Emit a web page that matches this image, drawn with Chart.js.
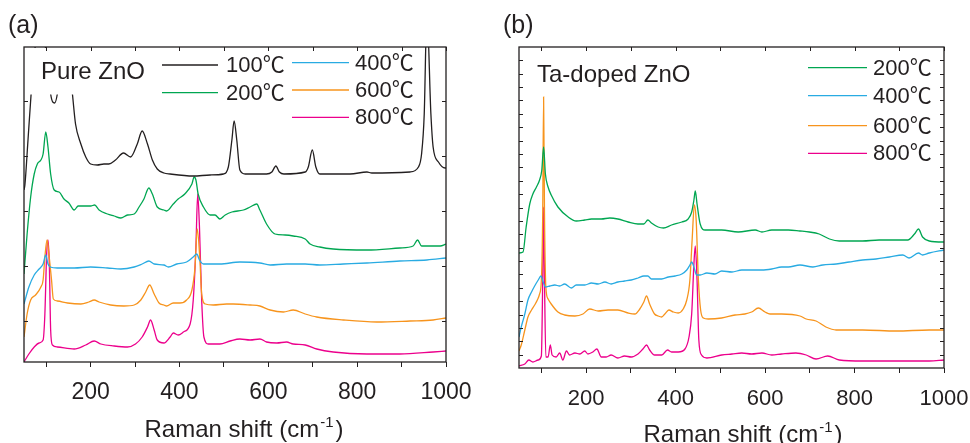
<!DOCTYPE html>
<html>
<head>
<meta charset="utf-8">
<script src="https://cdn.jsdelivr.net/npm/chart.js@4"></script>
<style>
  html, body { margin: 0; padding: 0; background: #fff; }
  #wrap { position: relative; width: 970px; height: 443px; overflow: hidden; }
  canvas { position: absolute; top: 0; }
  #ca { left: 0; }
  #cb { left: 485px; }
</style>
</head>
<body>
<div id="wrap">
  <canvas id="ca" width="485" height="443"></canvas>
  <canvas id="cb" width="485" height="443"></canvas>
</div>
<script>
// x ticks (cm-1) and which of them get a label
const xTicks = [100, 200, 300, 400, 500, 600, 700, 800, 900, 1000];
const xTickLabels = [200, 400, 600, 800, 1000];

// (a) Pure ZnO, offset spectra [Raman shift, intensity a.u.]
const pure100 = [[50,172],[52,177],[59,222],[66,268],[72,300],[80,330],[90,330],[100,310],[106,290],[110,268],[119,259],[125,268],[132,295],[142,310],[152,295],[159,268],[166,238],[178,218],[189,205],[200,198],[215,197],[230,198],[241,198],[256,202],[274,209],[290,205],[305,218],[316,231],[328,218],[339,202],[350,193],[365,189],[379,188],[431,186],[469,187],[499,188],[510,195],[518,222],[523,241],[529,222],[536,192],[548,188],[596,188],[608,190],[617,196],[625,190],[635,188],[683,190],[690,195],[699,212],[707,195],[716,188],[784,188],[822,190],[833,189],[919,190],[938,195],[945,208],[951,248],[957,350],[966,248],[971,215],[983,200],[998,194],[1000,194]];
const pure200 = [[50,88],[57,128],[65,165],[73,188],[80,198],[88,202],[93,208],[99,230],[104,215],[110,188],[118,172],[129,170],[140,163],[151,159],[163,152],[172,156],[200,156],[209,157],[219,152],[238,148],[253,146],[268,144],[283,147],[298,148],[309,155],[320,163],[331,174],[339,168],[350,155],[365,152],[371,151],[386,158],[397,163],[412,168],[428,178],[433,185],[437,182],[442,168],[454,155],[469,147],[480,147],[491,143],[503,147],[518,150],[544,152],[559,155],[574,158],[581,152],[596,138],[615,128],[638,127],[656,126],[683,123],[694,118],[716,115],[746,113],[822,112],[896,114],[926,116],[936,122],[945,116],[957,116],[987,116],[1000,118]];
const pure400 = [[50,58],[61,75],[73,87],[84,93],[93,98],[99,107],[104,98],[109,95],[125,94],[163,94],[200,95],[238,94],[268,93],[298,95],[316,98],[331,101],[343,98],[365,97],[375,95],[394,98],[416,100],[431,105],[439,108],[445,102],[454,98],[491,98],[536,100],[581,99],[604,97],[641,98],[683,98],[716,97],[769,98],[822,99],[896,101],[957,102],[1000,104]];
const pure600 = [[50,25],[57,48],[65,62],[76,67],[88,75],[93,82],[97,105],[102,122],[106,108],[112,82],[116,63],[125,61],[148,59],[178,58],[196,60],[208,62],[219,60],[245,57],[275,56],[298,57],[313,62],[324,70],[333,77],[343,68],[354,59],[365,57],[371,56],[386,59],[401,59],[416,62],[428,72],[435,95],[440,133],[446,102],[450,68],[458,58],[476,57],[506,58],[521,58],[559,57],[581,56],[604,52],[634,50],[656,52],[683,48],[709,45],[769,42],[844,40],[919,41],[971,42],[1000,44]];
const pure800 = [[50,0],[61,8],[73,15],[84,19],[93,22],[97,48],[101,108],[104,122],[107,98],[110,32],[114,17],[125,15],[163,13],[189,17],[208,21],[223,18],[253,16],[283,15],[301,18],[316,25],[328,35],[335,42],[343,32],[350,22],[365,19],[379,25],[386,29],[397,27],[409,30],[424,38],[431,62],[437,115],[441,168],[445,135],[450,62],[455,25],[465,18],[491,18],[514,21],[536,23],[559,22],[581,23],[596,20],[619,19],[641,20],[656,18],[683,17],[709,13],[746,10],[822,8],[896,8],[971,10],[1000,11]];

// (b) Ta-doped ZnO
const ta200 = [[50,115],[59,116],[66,141],[74,164],[81,174],[89,181],[96,188],[101,198],[105,221],[109,194],[115,181],[122,173],[137,161],[160,151],[178,147],[197,148],[212,149],[234,149],[253,150],[271,149],[294,146],[316,144],[329,144],[338,148],[346,145],[361,141],[373,140],[391,143],[414,146],[428,149],[436,156],[441,168],[444,177],[448,164],[455,144],[466,138],[503,138],[540,136],[578,138],[593,136],[615,138],[652,138],[678,137],[699,136],[721,134],[744,129],[766,127],[818,127],[855,128],[893,128],[919,128],[934,134],[943,139],[952,131],[967,127],[997,126],[1000,126]];
const ta400 = [[50,31],[55,41],[63,54],[70,68],[78,76],[85,82],[93,88],[99,92],[104,86],[109,81],[119,82],[130,83],[141,82],[152,84],[167,80],[178,83],[197,83],[212,85],[227,84],[242,86],[256,84],[271,86],[286,87],[301,88],[316,90],[329,92],[338,92],[346,89],[361,89],[369,89],[384,91],[399,92],[414,94],[425,98],[432,103],[436,106],[441,101],[447,93],[455,93],[470,95],[488,94],[503,97],[526,96],[548,98],[570,98],[593,98],[615,99],[637,101],[652,101],[678,103],[707,101],[729,103],[759,104],[788,106],[818,108],[848,109],[878,111],[908,113],[922,110],[943,115],[952,113],[967,115],[1000,118]];
const ta600 = [[50,17],[55,23],[63,38],[70,51],[78,58],[85,63],[91,68],[96,74],[100,88],[103,154],[105,271],[107,154],[110,81],[115,69],[122,64],[137,56],[152,53],[175,52],[193,54],[208,59],[227,57],[249,58],[271,58],[294,55],[309,54],[320,59],[329,66],[335,72],[342,64],[353,54],[361,52],[369,51],[376,54],[385,58],[395,56],[406,55],[417,59],[425,68],[432,88],[437,128],[442,163],[446,148],[451,88],[456,58],[462,50],[473,49],[503,50],[533,53],[555,54],[570,56],[585,60],[600,56],[611,54],[637,54],[678,52],[692,49],[714,47],[736,41],[759,38],[818,38],[893,37],[967,38],[1000,38]];
const ta800 = [[50,2],[63,4],[72,8],[81,6],[93,8],[100,12],[103,88],[105,161],[107,88],[110,11],[115,11],[120,23],[124,13],[133,11],[141,15],[148,8],[156,17],[163,13],[175,15],[186,14],[197,17],[204,14],[215,16],[224,19],[234,11],[245,11],[256,13],[271,10],[286,12],[301,11],[316,14],[327,19],[335,23],[342,18],[353,13],[369,13],[382,18],[391,16],[406,16],[421,19],[430,31],[436,54],[441,104],[444,122],[448,88],[452,28],[458,13],[470,10],[503,13],[526,14],[548,15],[570,14],[593,15],[615,13],[637,14],[669,15],[692,13],[714,9],[740,12],[766,8],[818,7],[893,7],[967,7],[1000,8]];

// inner y tick marks (no labels on the intensity axis)
const yTicksA = [41, 96, 151, 206, 261];
const yTicksB = [];
for (let k = 1; k < 24; k++) yTicksB.push(k * 321 / 24);

const INK = '#231f20';
const BLACK = '#231f20', GREEN = '#00a651', BLUE = '#29abe2', ORANGE = '#f7941d', PINK = '#ec008c';
const FONT = "'Liberation Sans', Arial, 'Noto Sans CJK SC', sans-serif";

// frame, inward ticks, legend, panel labels and axis title
const panelDecor = {
  id: 'panelDecor',
  afterDatasetsDraw(chart, args, o) {
    const ctx = chart.ctx, a = chart.chartArea;
    const xs = chart.scales.x, ys = chart.scales.y;
    ctx.save();
    if (o.mask) {
      ctx.fillStyle = '#fff';
      ctx.fillRect(o.mask[0], o.mask[1], o.mask[2], o.mask[3]);
    }
    ctx.strokeStyle = INK;
    ctx.lineWidth = 1.3;
    ctx.strokeRect(a.left, a.top, a.right - a.left, a.bottom - a.top);
    ctx.lineWidth = 1;
    ctx.beginPath();
    xTicks.forEach(v => {
      const px = Math.round(xs.getPixelForValue(v)) + 0.5;
      ctx.moveTo(px, a.top); ctx.lineTo(px, a.top + 4);
    });
    o.yTicks.forEach(v => {
      const py = Math.round(ys.getPixelForValue(v)) + 0.5;
      ctx.moveTo(a.left, py); ctx.lineTo(a.left + 4, py);
      ctx.moveTo(a.right, py); ctx.lineTo(a.right - 4, py);
    });
    ctx.stroke();

    ctx.font = '22px ' + FONT;
    ctx.textBaseline = 'middle';
    ctx.textAlign = 'left';
    chart.data.datasets.forEach((ds, i) => {
      const p = o.legend[i];
      ctx.strokeStyle = ds.borderColor;
      ctx.lineWidth = 1.3;
      ctx.beginPath(); ctx.moveTo(p.x1, p.y); ctx.lineTo(p.x2, p.y); ctx.stroke();
      ctx.fillStyle = INK;
      ctx.fillText(ds.label, p.tx, p.y + 1);
    });

    ctx.textBaseline = 'alphabetic';
    ctx.fillStyle = INK;
    ctx.font = '24px ' + FONT;
    ctx.fillText(o.sample, o.sampleAt[0], o.sampleAt[1]);
    ctx.font = '25px ' + FONT;
    ctx.fillText(o.letter, o.letterAt[0], o.letterAt[1]);

    // Raman shift (cm-1) with a raised -1
    const main = 'Raman shift (cm', sup = '-1', close = ')';
    ctx.font = '24px ' + FONT;
    const w1 = ctx.measureText(main).width, w3 = ctx.measureText(close).width;
    ctx.font = '15px ' + FONT;
    const w2 = ctx.measureText(sup).width;
    let x = o.titleAt[0] - (w1 + w2 + 3 + w3) / 2;
    const y = o.titleAt[1];
    ctx.font = '24px ' + FONT;
    ctx.fillText(main, x, y);
    x += w1 + 1;
    ctx.font = '15px ' + FONT;
    ctx.fillText(sup, x, y - 10);
    x += w2 + 2;
    ctx.font = '24px ' + FONT;
    ctx.fillText(close, x, y);
    ctx.restore();
  }
};

function line(label, data, color) {
  return { label, data, borderColor: color, borderWidth: 1.3, pointRadius: 0, cubicInterpolationMode: 'monotone', fill: false };
}

function makeChart(id, datasets, s) {
  return new Chart(document.getElementById(id), {
    type: 'line',
    data: { datasets },
    options: {
      responsive: false,
      animation: false,
      layout: { padding: { left: s.left, right: s.right, top: 47, bottom: 0 } },
      scales: {
        x: {
          type: 'linear', min: 50, max: 1000,
          afterBuildTicks: sc => { sc.ticks = xTicks.map(v => ({ value: v })); },
          afterFit: sc => {
            sc.height = s.axisH;
            sc.paddingLeft = 0;
            sc.paddingRight = 0;
          },
          ticks: {
            autoSkip: false, maxRotation: 0, color: INK, padding: s.tickPad,
            font: { family: FONT, size: s.tickSize },
            callback: v => xTickLabels.includes(v) ? String(v) : ''
          },
          grid: { drawOnChartArea: false, drawTicks: true, tickLength: 5, color: INK, lineWidth: 1 },
          border: { display: false }
        },
        y: { display: false, min: 0, max: s.yMax }
      },
      plugins: {
        legend: { display: false },
        tooltip: { enabled: false },
        panelDecor: s.decor
      }
    },
    plugins: [panelDecor]
  });
}

makeChart('ca', [
  line('100℃', pure100, BLACK),
  line('200℃', pure200, GREEN),
  line('400℃', pure400, BLUE),
  line('600℃', pure600, ORANGE),
  line('800℃', pure800, PINK)
], {
  left: 24, right: 39, axisH: 81, yMax: 315, tickPad: 12, tickSize: 23,
  decor: {
    mask: [25, 48, 395, 46.5],
    yTicks: yTicksA,
    legend: [
      { x1: 162, x2: 218, y: 65, tx: 226 },
      { x1: 162, x2: 218, y: 92.7, tx: 226 },
      { x1: 292, x2: 349, y: 62.7, tx: 355 },
      { x1: 292, x2: 349, y: 90, tx: 355 },
      { x1: 292, x2: 349, y: 117.3, tx: 355 }
    ],
    sample: 'Pure ZnO', sampleAt: [41, 79],
    letter: '(a)', letterAt: [8, 33],
    titleAt: [244, 437]
  }
});

makeChart('cb', [
  line('200℃', ta200, GREEN),
  line('400℃', ta400, BLUE),
  line('600℃', ta600, ORANGE),
  line('800℃', ta800, PINK)
], {
  left: 34, right: 26, axisH: 75, yMax: 321, tickPad: 13, tickSize: 22,
  decor: {
    mask: null,
    yTicks: yTicksB,
    legend: [
      { x1: 323, x2: 382, y: 67.7, tx: 388 },
      { x1: 323, x2: 382, y: 95.7, tx: 388 },
      { x1: 323, x2: 382, y: 125.7, tx: 388 },
      { x1: 323, x2: 382, y: 153.3, tx: 388 }
    ],
    sample: 'Ta-doped ZnO', sampleAt: [52, 81.7],
    letter: '(b)', letterAt: [18, 33],
    titleAt: [258, 442]
  }
});
</script>
</body>
</html>
